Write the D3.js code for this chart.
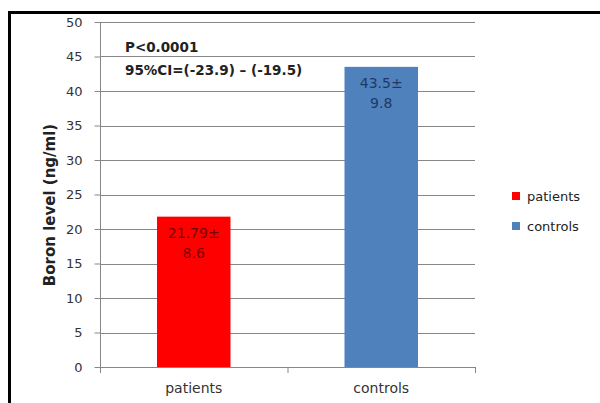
<!DOCTYPE html>
<html><head><meta charset="utf-8">
<script src="https://cdn.jsdelivr.net/npm/d3@7"></script>
<style>body{margin:0;background:#fff}svg{display:block}</style>
</head><body>
<script>
const categories = ["patients", "controls"];
const values = [21.79, 43.5];
const sds = [8.6, 9.8];
const barLabels = [["21.79±", "8.6"], ["43.5±", "9.8"]];
const colors = ["#ff0000", "#4f81bd"];
const labelColors = ["#7a0000", "#1f3864"];
const yTicks = [0, 5, 10, 15, 20, 25, 30, 35, 40, 45, 50];
const annotation = ["P<0.0001", "95%CI=(-23.9) – (-19.5)"];
const yTitle = "Boron level (ng/ml)";

const W = 600, H = 403;
const svg = d3.select("body").append("svg").attr("width", W).attr("height", H);
const font = "'DejaVu Sans', sans-serif";

// frame
svg.append("line").attr("x1", 9.5).attr("x2", W).attr("y1", 12.5).attr("y2", 12.5).attr("stroke", "#000").attr("stroke-width", 3);
svg.append("line").attr("x1", 9.5).attr("x2", 9.5).attr("y1", 11).attr("y2", H).attr("stroke", "#000").attr("stroke-width", 3);

const x = d3.scaleBand().domain(categories).range([100, 475]).paddingInner(0.608).paddingOuter(0.304);
const xb = d3.scaleBand().domain(categories).range([100, 475]);
const y = d3.scaleLinear().domain([0, 50]).range([367, 22]);

// gridlines
svg.append("g").selectAll("line").data(yTicks.filter(d => d > 0)).join("line")
  .attr("x1", 100).attr("x2", 475).attr("y1", d => Math.round(y(d)) + 0.5).attr("y2", d => Math.round(y(d)) + 0.5)
  .attr("stroke", "#878787").attr("stroke-width", 1);

// bars
svg.append("g").selectAll("rect").data(categories).join("rect")
  .attr("x", d => x(d)).attr("width", x.bandwidth())
  .attr("y", (d, i) => y(values[i])).attr("height", (d, i) => y(0) - y(values[i]))
  .attr("fill", (d, i) => colors[i]);

// y axis
const yAxis = svg.append("g").attr("transform", "translate(100.5,0)")
  .call(d3.axisLeft(y).tickValues(yTicks).tickSize(6).tickPadding(12));
yAxis.select(".domain").attr("stroke", "#878787").attr("d", `M0,${y(50)}V${y(0)}`);
yAxis.selectAll(".tick line").attr("stroke", "#878787");
yAxis.selectAll(".tick text").attr("font-family", font).attr("font-size", 13).attr("fill", "#333");

// x axis
const xAxis = svg.append("g").attr("transform", `translate(0,${Math.round(y(0)) + 0.5})`)
  .call(d3.axisBottom(xb).tickSize(0).tickPadding(16));
xAxis.select(".domain").attr("stroke", "#878787").attr("d", "M100,0H475");
xAxis.selectAll(".tick text").attr("font-family", font).attr("font-size", 14).attr("fill", "#333");
svg.append("g").selectAll("line").data([0, 1, 2]).join("line")
  .attr("x1", d => 100.5 + d * xb.step()).attr("x2", d => 100.5 + d * xb.step())
  .attr("y1", y(0)).attr("y2", y(0) + 6).attr("stroke", "#878787");

// bar labels
categories.forEach((c, i) => {
  const cx = x(c) + x.bandwidth() / 2;
  barLabels[i].forEach((t, j) => {
    svg.append("text").attr("x", cx).attr("y", y(values[i]) + 21 + j * 20)
      .attr("text-anchor", "middle").attr("font-family", font).attr("font-size", 14)
      .attr("fill", labelColors[i]).text(t);
  });
});

// annotation
annotation.forEach((t, j) => {
  svg.append("text").attr("x", 125).attr("y", 52 + j * 23).attr("font-family", font)
    .attr("font-size", 13.5).attr("font-weight", "bold").attr("fill", "#222").text(t);
});

// y title
svg.append("text").attr("transform", `translate(55,205) rotate(-90)`).attr("text-anchor", "middle")
  .attr("font-family", font).attr("font-size", 15).attr("font-weight", "bold").attr("fill", "#222")
  .text(yTitle);

// legend
const leg = svg.append("g").selectAll("g").data(categories).join("g")
  .attr("transform", (d, i) => `translate(512,${196 + i * 30})`);
leg.append("rect").attr("x", 0).attr("y", -4).attr("width", 8).attr("height", 8).attr("fill", (d, i) => colors[i]);
leg.append("text").attr("x", 15).attr("y", 5).attr("font-family", font).attr("font-size", 13).attr("fill", "#222").text(d => d);
</script>
</body></html>
